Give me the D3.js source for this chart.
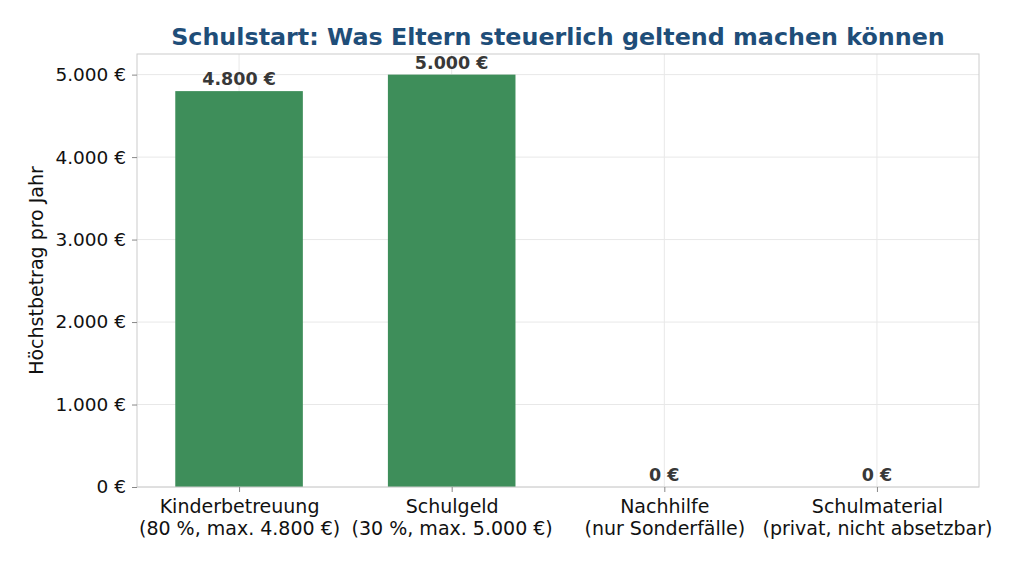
<!DOCTYPE html>
<html>
<head>
<meta charset="utf-8">
<script src="https://cdn.jsdelivr.net/npm/d3@7"></script>
<style>
  body { margin: 0; background: #fff; }
  text { font-family: "DejaVu Sans", sans-serif; }
</style>
</head>
<body>
<div id="chart"></div>
<script>
// data
const categories = ["Kinderbetreuung", "Schulgeld", "Nachhilfe", "Schulmaterial"];
const subLabels = ["(80 %, max. 4.800 €)", "(30 %, max. 5.000 €)", "(nur Sonderfälle)", "(privat, nicht absetzbar)"];
const values = [4800, 5000, 0, 0];
const yTicks = [0, 1000, 2000, 3000, 4000, 5000];

const W = 1024, H = 569;
const margin = { top: 54, right: 45, bottom: 82, left: 137 },
    width = W - margin.left - margin.right,
    height = H - margin.top - margin.bottom;

const de = d3.formatLocale({ decimal: ",", thousands: ".", grouping: [3], currency: ["", " €"] });
const fmt = v => de.format(",.0f")(v) + " €";

const svg = d3.select("#chart").append("svg")
    .attr("width", W).attr("height", H);

const g = svg.append("g")
    .attr("transform", `translate(${margin.left}, ${margin.top})`);

// scales
const barW = 0.6;
const x = d3.scaleLinear()
    .domain([-0.48, categories.length - 1 + 0.48])
    .range([0, width]);
const y = d3.scaleLinear()
    .domain([0, 5250])
    .range([height, 0]);

// grid
g.append("g")
    .selectAll("line.hg")
    .data(yTicks)
    .join("line")
    .attr("x1", 0).attr("x2", width)
    .attr("y1", d => y(d)).attr("y2", d => y(d))
    .attr("stroke", "#e8e8e8").attr("stroke-width", 1);
g.append("g")
    .selectAll("line.vg")
    .data(categories)
    .join("line")
    .attr("x1", (d, i) => x(i)).attr("x2", (d, i) => x(i))
    .attr("y1", 0).attr("y2", height)
    .attr("stroke", "#e8e8e8").attr("stroke-width", 1);

// bars
g.selectAll("rect.bar")
    .data(values)
    .join("rect")
    .attr("class", "bar")
    .attr("x", (d, i) => x(i - barW / 2))
    .attr("width", x(barW) - x(0))
    .attr("y", d => y(d))
    .attr("height", d => height - y(d))
    .attr("fill", "#3e8e5a");

// value labels
g.selectAll("text.val")
    .data(values)
    .join("text")
    .attr("x", (d, i) => x(i))
    .attr("y", d => y(d) - 6)
    .attr("text-anchor", "middle")
    .attr("font-size", 17.5)
    .attr("font-weight", "bold")
    .attr("fill", "#383838")
    .text(d => fmt(d));

// frame
g.append("rect")
    .attr("width", width).attr("height", height)
    .attr("fill", "none").attr("stroke", "#cccccc").attr("stroke-width", 1);

// y axis
const yAxis = g.append("g")
    .call(d3.axisLeft(y).tickValues(yTicks).tickFormat(fmt).tickSize(5).tickPadding(6));
yAxis.select(".domain").remove();
yAxis.selectAll(".tick line").attr("stroke", "#888");
yAxis.selectAll(".tick text")
    .attr("font-family", "DejaVu Sans").attr("font-size", 18.5).attr("fill", "#111");

// x axis
const xAxis = g.append("g")
    .attr("transform", `translate(0, ${height})`)
    .call(d3.axisBottom(x).tickValues(d3.range(categories.length)).tickFormat("").tickSize(5));
xAxis.select(".domain").remove();
xAxis.selectAll(".tick line").attr("stroke", "#888");
xAxis.selectAll(".tick").each(function (d, i) {
    const t = d3.select(this).append("text")
        .attr("text-anchor", "middle")
        .attr("font-family", "DejaVu Sans")
        .attr("font-size", 19)
        .attr("fill", "#111");
    t.append("tspan").attr("x", 0).attr("y", 26).text(categories[i]);
    t.append("tspan").attr("x", 0).attr("y", 48).text(subLabels[i]);
});

// y label
svg.append("text")
    .attr("transform", `translate(43, ${margin.top + height / 2}) rotate(-90)`)
    .attr("text-anchor", "middle")
    .attr("font-size", 19)
    .attr("fill", "#111")
    .text("Höchstbetrag pro Jahr");

// title
svg.append("text")
    .attr("x", margin.left + width / 2)
    .attr("y", 45)
    .attr("text-anchor", "middle")
    .attr("font-size", 23.8)
    .attr("font-weight", "bold")
    .attr("fill", "#1f4e79")
    .text("Schulstart: Was Eltern steuerlich geltend machen können");
</script>
</body>
</html>
